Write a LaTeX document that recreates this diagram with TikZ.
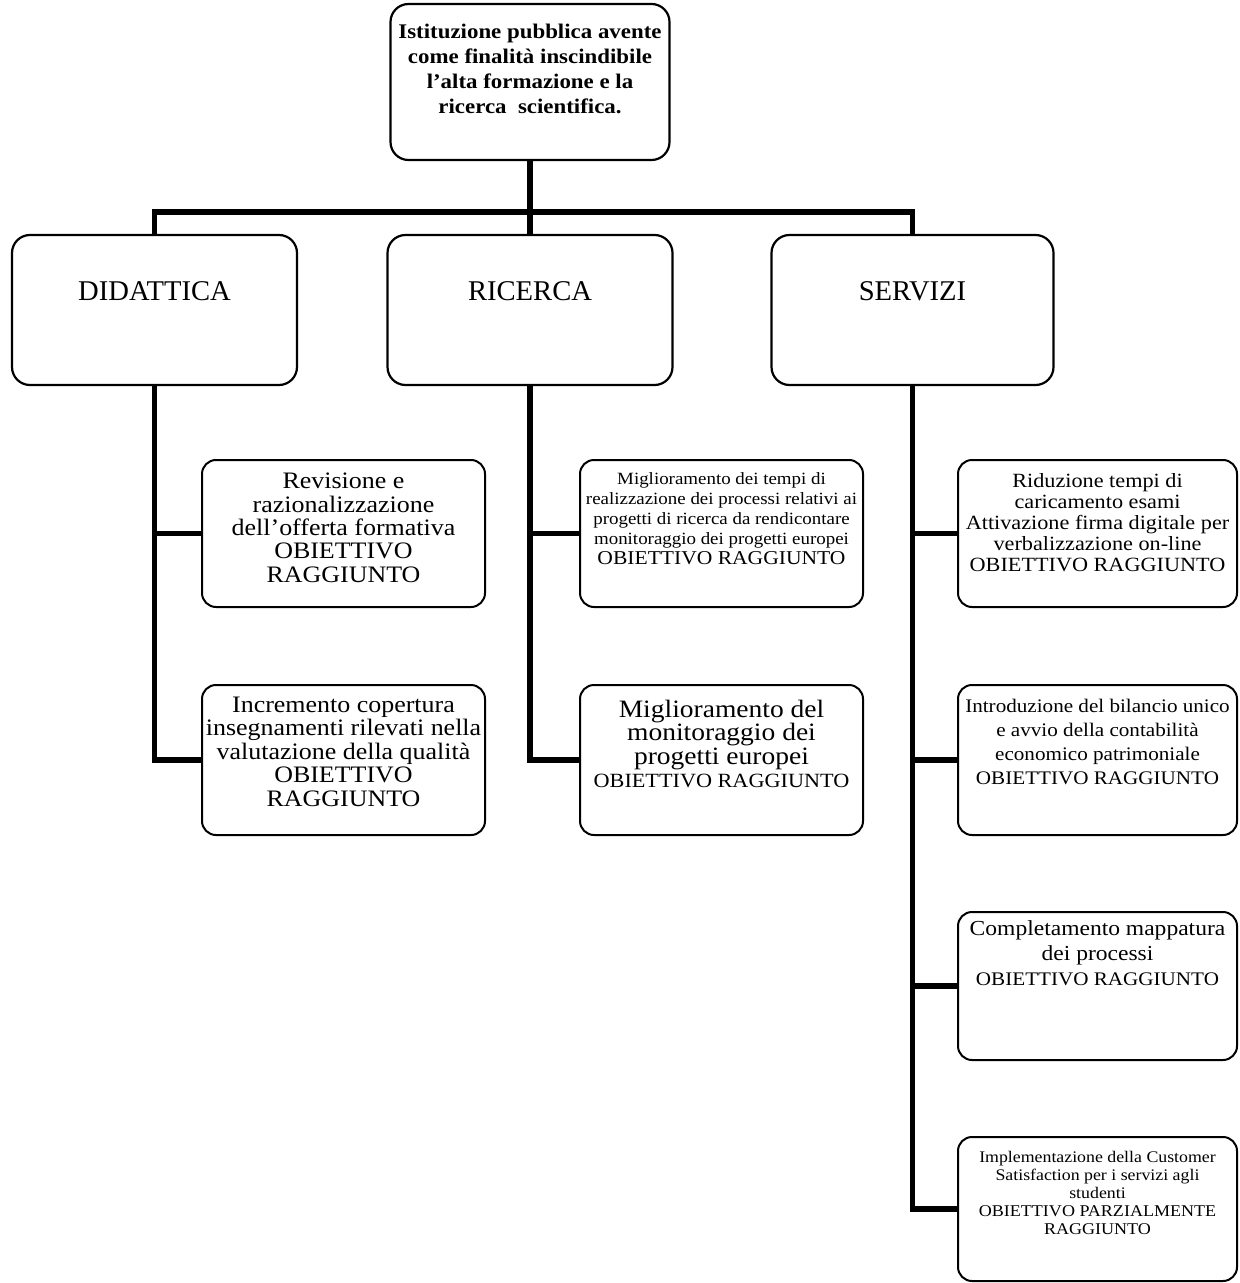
\documentclass[tikz,border=0pt]{standalone}
\usepackage{fontspec}
\setmainfont{Liberation Serif}
\newfontfamily\boxfont{Liberation Serif}[FakeStretch=1.1]
\usepackage{tikz}
\newcommand{\boxText}[4]{\parbox[c][#1][t]{#2}{\centering\vspace*{#3}#4}}
\tikzset{
  rootBox/.style={
    draw=black,
    line width=1.1pt,
    fill=white,
    rounded corners=9pt,
    inner sep=0pt,
    font=\boxfont\bfseries
  },
  areaBox/.style={
    draw=black,
    line width=1.1pt,
    fill=white,
    rounded corners=9pt,
    inner sep=0pt,
    font=\fontsize{14.3}{16}\selectfont
  },
  goalBox/.style={
    draw=black,
    line width=1pt,
    fill=white,
    rounded corners=7pt,
    inner sep=0pt,
    font=\boxfont
  },
  linkLine/.style={
    draw=black,
    line width=2.8pt
  }
}
\begin{document}
\begin{tikzpicture}[x=0.5pt, y=-0.5pt]
      \useasboundingbox (0,0) rectangle (1239,1283);

      % vertice
      \node[rootBox] (root) at (530,82) {\boxText{78pt}{139.5pt}{10pt}{\fontsize{10.4}{12.5}\selectfont
        Istituzione pubblica avente\\ come finalità inscindibile\\ l’alta formazione e la\\ ricerca~ scientifica.}};

      % aree
      \node[areaBox] (did) at (154.5,310) {\boxText{75pt}{142.5pt}{23.5pt}{DIDATTICA}};
      \node[areaBox] (ric) at (530,310) {\boxText{75pt}{142.5pt}{23.5pt}{RICERCA}};
      \node[areaBox] (serv) at (912.5,310) {\boxText{75pt}{141pt}{23.5pt}{SERVIZI}};

      % obiettivi didattica
      \node[goalBox] (rev) at (343.5,533.5) {\boxText{73.5pt}{141.5pt}{6.5pt}{\fontsize{11.8}{11.7}\selectfont
        Revisione e\\ razionalizzazione\\ dell’offerta formativa\\ OBIETTIVO\\ RAGGIUNTO}};
      \node[goalBox] (inc) at (343.5,760) {\boxText{75pt}{141.5pt}{6pt}{\fontsize{11.8}{11.7}\selectfont
        Incremento copertura\\ insegnamenti rilevati nella\\ valutazione della qualità\\ OBIETTIVO\\ RAGGIUNTO}};

      % obiettivi ricerca
      \node[goalBox] (tempi) at (721.5,533.5) {\boxText{73.5pt}{141.5pt}{6.5pt}{\fontsize{8.6}{10}\selectfont
        Miglioramento dei tempi di\\ realizzazione dei processi relativi ai\\ progetti di ricerca da rendicontare\\ monitoraggio dei progetti europei\\
        \fontsize{9.8}{10}\selectfont OBIETTIVO RAGGIUNTO}};
      \node[goalBox] (mon) at (721.5,760) {\boxText{75pt}{141.5pt}{7.5pt}{\fontsize{12.5}{11.7}\selectfont
        Miglioramento del\\ monitoraggio dei\\ progetti europei\\ \fontsize{10.1}{11.7}\selectfont OBIETTIVO RAGGIUNTO}};

      % obiettivi servizi
      \node[goalBox] (rid) at (1097.5,533.5) {\boxText{73.5pt}{139.5pt}{6.5pt}{\fontsize{10.1}{10.6}\selectfont
        Riduzione tempi di\\ caricamento esami\\ Attivazione firma digitale per\\ verbalizzazione on-line\\ OBIETTIVO RAGGIUNTO}};
      \node[goalBox] (intro) at (1097.5,760) {\boxText{75pt}{139.5pt}{7pt}{\fontsize{9.6}{12}\selectfont
        Introduzione del bilancio unico\\ e avvio della contabilità\\ economico patrimoniale\\ OBIETTIVO RAGGIUNTO}};
      \node[goalBox] (compl) at (1097.5,986) {\boxText{74pt}{139.5pt}{4.5pt}{\fontsize{10.7}{12.5}\selectfont
        Completamento mappatura\\ dei processi\\ \fontsize{9.6}{12.5}\selectfont OBIETTIVO RAGGIUNTO}};
      \node[goalBox] (cust) at (1097.5,1209) {\boxText{72pt}{139.5pt}{7pt}{\fontsize{8.1}{9}\selectfont
        Implementazione della Customer\\ Satisfaction per i servizi agli\\ studenti\\
        \fontsize{8.2}{9}\selectfont OBIETTIVO PARZIALMENTE\\ RAGGIUNTO}};

      % collegamenti
      \coordinate (bar) at (530,212);
      \draw[linkLine] (root.south) -- (bar);
      \draw[linkLine] (did.north) |- (bar) -| (serv.north);
      \draw[linkLine] (bar) -- (ric.north);

      \draw[linkLine] (did.south) |- (inc.west);
      \draw[linkLine] (did.south |- rev.west) -- (rev.west);

      \draw[linkLine] (ric.south) |- (mon.west);
      \draw[linkLine] (ric.south |- tempi.west) -- (tempi.west);

      \draw[linkLine] (serv.south) |- (cust.west);
      \draw[linkLine] (serv.south |- rid.west) -- (rid.west);
      \draw[linkLine] (serv.south |- intro.west) -- (intro.west);
      \draw[linkLine] (serv.south |- compl.west) -- (compl.west);
    \end{tikzpicture}
\end{document}
